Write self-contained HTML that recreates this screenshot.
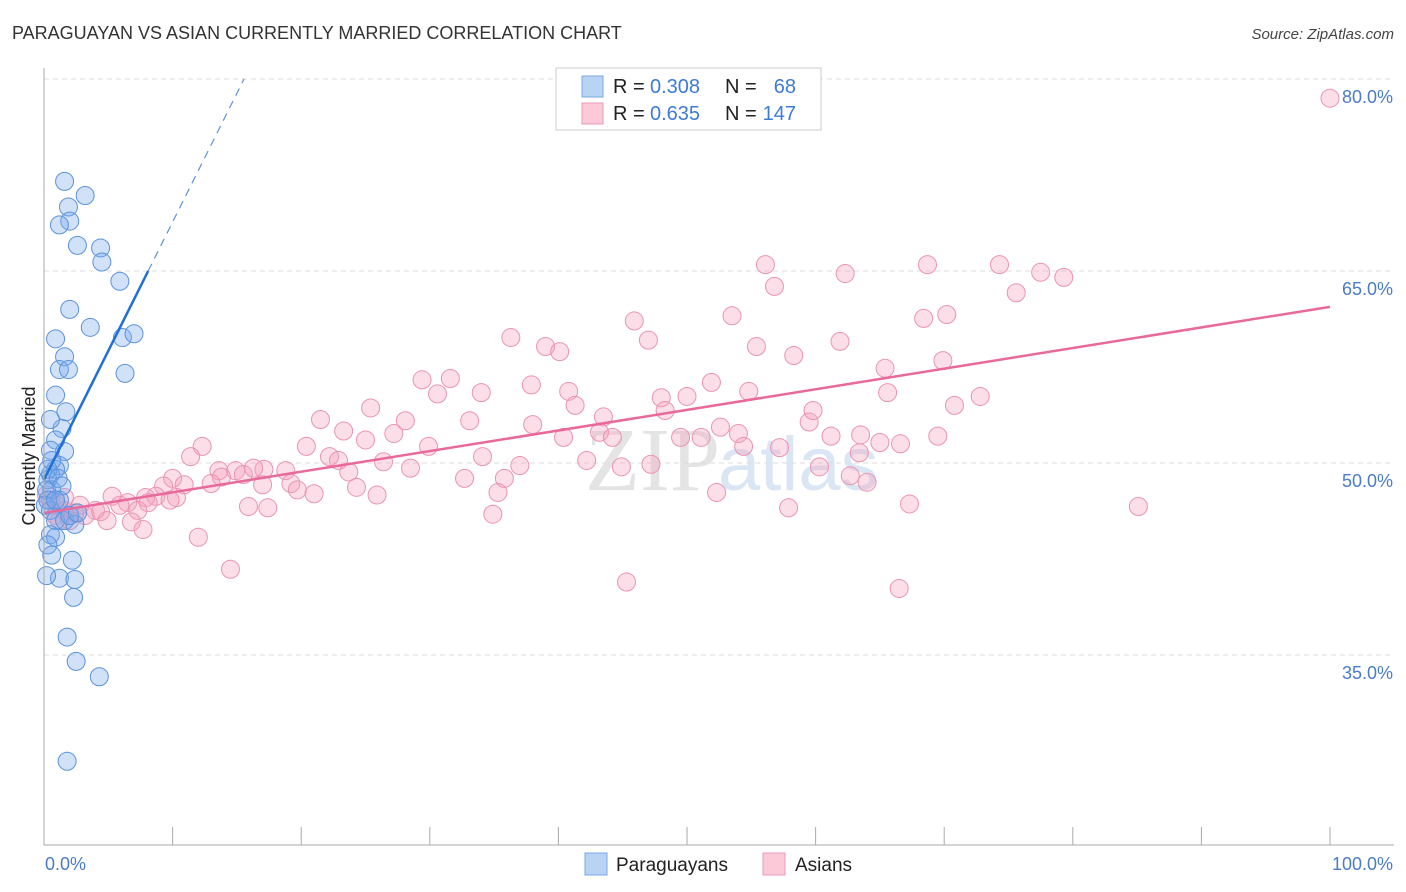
<!DOCTYPE html>
<html><head><meta charset="utf-8"><style>
body{margin:0;background:#fff;font-family:"Liberation Sans",sans-serif;}
#wrap{position:relative;width:1406px;height:892px;overflow:hidden;}
svg{position:absolute;left:0;top:0;}
</style></head><body>
<div id="wrap">
<svg id="svg" width="1406" height="892">
<text x="12" y="39" font-size="18" fill="#333">PARAGUAYAN VS ASIAN CURRENTLY MARRIED CORRELATION CHART</text>
<text x="1394" y="39" font-size="15" fill="#444" text-anchor="end" font-style="italic">Source: ZipAtlas.com</text>
<text x="35" y="456" font-size="18" fill="#222" text-anchor="middle" transform="rotate(-90 35 456)">Currently Married</text>
<text x="720" y="490" font-size="90" fill="#e4e4e4" text-anchor="end" font-family="Liberation Serif">ZIP</text>
<text x="718" y="490" font-size="76" fill="#dbe6f4">atlas</text>
<g id="grid"></g><g id="pts"></g><g id="lines"></g><g id="axes"></g>
<g>
<rect x="556" y="68" width="265" height="62" fill="#fff" stroke="#ccc"/>
<rect x="582" y="76" width="21" height="21" fill="#b9d3f5" stroke="#7aa7e6"/>
<rect x="582" y="103" width="21" height="21" fill="#fbc9d8" stroke="#ee9bb6"/>
<text x="613" y="93" font-size="20" fill="#222">R = </text><text x="650" y="93" font-size="20" fill="#3d7bd9">0.308</text>
<text x="725" y="93" font-size="20" fill="#222">N = </text><text x="796" y="93" font-size="20" fill="#3d7bd9" text-anchor="end">68</text>
<text x="613" y="120" font-size="20" fill="#222">R = </text><text x="650" y="120" font-size="20" fill="#3d7bd9">0.635</text>
<text x="725" y="120" font-size="20" fill="#222">N = </text><text x="796" y="120" font-size="20" fill="#3d7bd9" text-anchor="end">147</text>
</g>
<g>
<rect x="585" y="853" width="22" height="22" fill="#b9d3f5" stroke="#7aa7e6"/>
<text x="616" y="871" font-size="19" fill="#222">Paraguayans</text>
<rect x="763" y="853" width="22" height="22" fill="#fbc9d8" stroke="#ee9bb6"/>
<text x="795" y="871" font-size="19" fill="#222">Asians</text>
</g>
</svg></div>
<script>
const yTicks=[80,65,50,35];
const xTickLabels=["0.0%","100.0%"];
const blueX=[1.6,3.2,1.9,2.0,1.2,2.6,4.4,4.5,5.9,2.0,3.6,6.1,7.0,6.3,0.9,1.6,1.2,1.9,0.9,1.7,1.4,0.5,0.9,1.6,0.5,1.2,0.9,0.5,0.3,0.6,1.2,0.2,0.5,0.9,1.6,2.4,0.5,0.9,0.3,0.6,2.2,1.2,2.4,2.3,0.2,1.8,2.5,4.3,1.8,0.3,1.1,1.4,0.1,2.0,2.6,0.6,0.3,0.9];
const blueY=[72.0,70.9,70.0,68.9,68.6,67.0,66.8,65.7,64.2,62.0,60.6,59.8,60.1,57.0,59.7,58.3,57.3,57.3,55.3,54.0,52.7,53.4,51.8,50.9,51.0,49.8,49.5,49.1,48.7,47.9,47.1,47.9,46.3,45.5,45.5,45.2,44.4,44.2,43.6,42.8,42.4,41.0,40.9,39.5,41.2,36.4,34.5,33.3,26.7,49.5,48.8,48.2,46.7,45.9,46.1,50.2,47.1,47.1];
const pinkX=[100,56.1,68.7,74.3,77.5,79.3,62.3,56.8,75.6,53.5,45.9,68.4,70.2,47.0,36.3,55.4,61.9,39.0,40.1,69.9,58.3,65.4,31.6,29.4,51.9,37.9,34.0,30.6,40.8,48.0,50.0,54.8,65.6,72.8,48.3,41.3,43.5,70.8,21.5,25.4,33.1,38.0,28.1,27.2,23.3,40.4,43.2,44.2,52.6,49.5,54.0,59.5,59.8,51.1,61.2,63.5,65.0,66.6,69.5,54.4,57.2,63.4,25.0,20.4,12.3,11.4,22.2,26.4,29.9,22.9,34.1,37.0,42.2,44.9,47.2,60.3,62.7,64.0,13.6,14.9,17.1,18.8,13.8,15.5,16.3,23.7,28.5,10.0,24.3,10.9,19.2,13.0,19.7,17.0,9.3,10.3,21.0,25.9,32.7,35.8,35.3,52.3,8.7,7.9,8.1,9.8,5.3,6.5,7.3,5.9,15.9,17.4,34.9,57.9,67.3,85.1,4.0,2.8,3.2,4.4,1.6,1.0,0.9,1.2,2.0,2.4,4.9,6.8,7.7,12.0,14.5,45.3,66.5,0.5,0.2,1.6];
const pinkY=[78.5,65.5,65.5,65.5,64.9,64.5,64.8,63.8,63.3,61.5,61.1,61.3,61.6,59.6,59.8,59.1,59.5,59.1,58.7,58.0,58.4,57.4,56.6,56.5,56.3,56.1,55.5,55.4,55.6,55.1,55.2,55.6,55.5,55.2,54.1,54.5,53.6,54.5,53.4,54.3,53.3,53.0,53.3,52.3,52.5,52.0,52.4,52.0,52.8,52.0,52.3,53.2,54.1,52.0,52.1,52.2,51.6,51.5,52.1,51.3,51.2,50.8,51.8,51.3,51.3,50.5,50.5,50.1,51.3,50.2,50.5,49.8,50.2,49.7,49.9,49.7,49.0,48.5,49.4,49.4,49.5,49.4,48.9,49.1,49.6,49.3,49.6,48.8,48.1,48.3,48.4,48.4,47.9,48.3,48.2,47.3,47.6,47.5,48.8,48.8,47.7,47.7,47.4,47.3,46.9,47.1,47.4,46.9,46.3,46.7,46.6,46.5,46.0,46.5,46.8,46.6,46.3,46.7,45.9,46.2,46.3,46.7,45.9,45.5,45.5,46.1,45.5,45.4,44.8,44.2,41.7,40.7,40.2,47.1,47.5,47.3];
const blueTrend=[48.7,2.01*12.8/12.8*12.86/12.8*100/100]; // intercept %, slope (% per %)
const pinkTrend=[46.1,0.161];
const blueSolidEnd=[8.1];
const NS='http://www.w3.org/2000/svg';
const X=v=>44+v*12.86, Y=v=>463-(v-50)*12.8;
function mk(tag,attrs,parent){const e=document.createElementNS(NS,tag);for(const k in attrs)e.setAttribute(k,attrs[k]);parent.appendChild(e);return e;}
const grid=document.getElementById('grid'),pts=document.getElementById('pts'),lines=document.getElementById('lines'),axes=document.getElementById('axes');
yTicks.forEach(t=>{
  const l=mk('line',{x1:44,x2:1394,y1:Y(t),y2:Y(t),stroke:'#ddd','stroke-dasharray':'5,4'},grid);
  
  
  const tx=mk('text',{x:1393,y:Y(t)+24,'font-size':18,fill:'#4a7cc9','text-anchor':'end'},axes);
  tx.textContent=t.toFixed(1)+'%';
  
  
});
const ax=mk('line',{x1:44,x2:44,y1:68,y2:845,stroke:'#aaa'},axes);


const bx=mk('line',{x1:44,x2:1394,y1:845,y2:845,stroke:'#aaa'},axes);


for(let i=1;i<=10;i++){const t=mk('line',{x1:X(i*10),x2:X(i*10),y1:827,y2:845,stroke:'#aaa'},axes);
  
  }
const xl0=mk('text',{x:45,y:870,'font-size':18,fill:'#4a7cc9'},axes);xl0.textContent=xTickLabels[0];


const xl1=mk('text',{x:1393,y:870,'font-size':18,fill:'#4a7cc9','text-anchor':'end'},axes);xl1.textContent=xTickLabels[1];


pinkX.forEach((x,i)=>{const c=mk('circle',{cx:X(x),cy:Y(pinkY[i]),r:9,fill:'rgba(244,160,190,0.35)',stroke:'#eb94b2','stroke-width':1},pts);
  
  });
blueX.forEach((x,i)=>{const c=mk('circle',{cx:X(x),cy:Y(blueY[i]),r:9,fill:'rgba(120,170,235,0.35)',stroke:'#5b93dd','stroke-width':1},pts);
  
  });
const bs=(80-blueTrend[0])/((80-48.7)/15.3);
const bslope=(65-48.7)/8.1;
const by=v=>blueTrend[0]+bslope*v;
const b1=mk('line',{x1:X(0),y1:Y(by(0)),x2:X(blueSolidEnd[0]),y2:Y(by(blueSolidEnd[0])),stroke:'#1f6fd8','stroke-width':2.5},lines);


const bend=(80-blueTrend[0])/bslope;
const b2=mk('line',{x1:X(blueSolidEnd[0]),y1:Y(by(blueSolidEnd[0])),x2:X(bend),y2:Y(80),stroke:'#5b93dd','stroke-width':1.2,'stroke-dasharray':'8,6'},lines);


const p1=mk('line',{x1:X(0),y1:Y(pinkTrend[0]),x2:X(100),y2:Y(pinkTrend[0]+pinkTrend[1]*100),stroke:'#e8699a','stroke-width':2.5},lines);


</script>
</body></html>
